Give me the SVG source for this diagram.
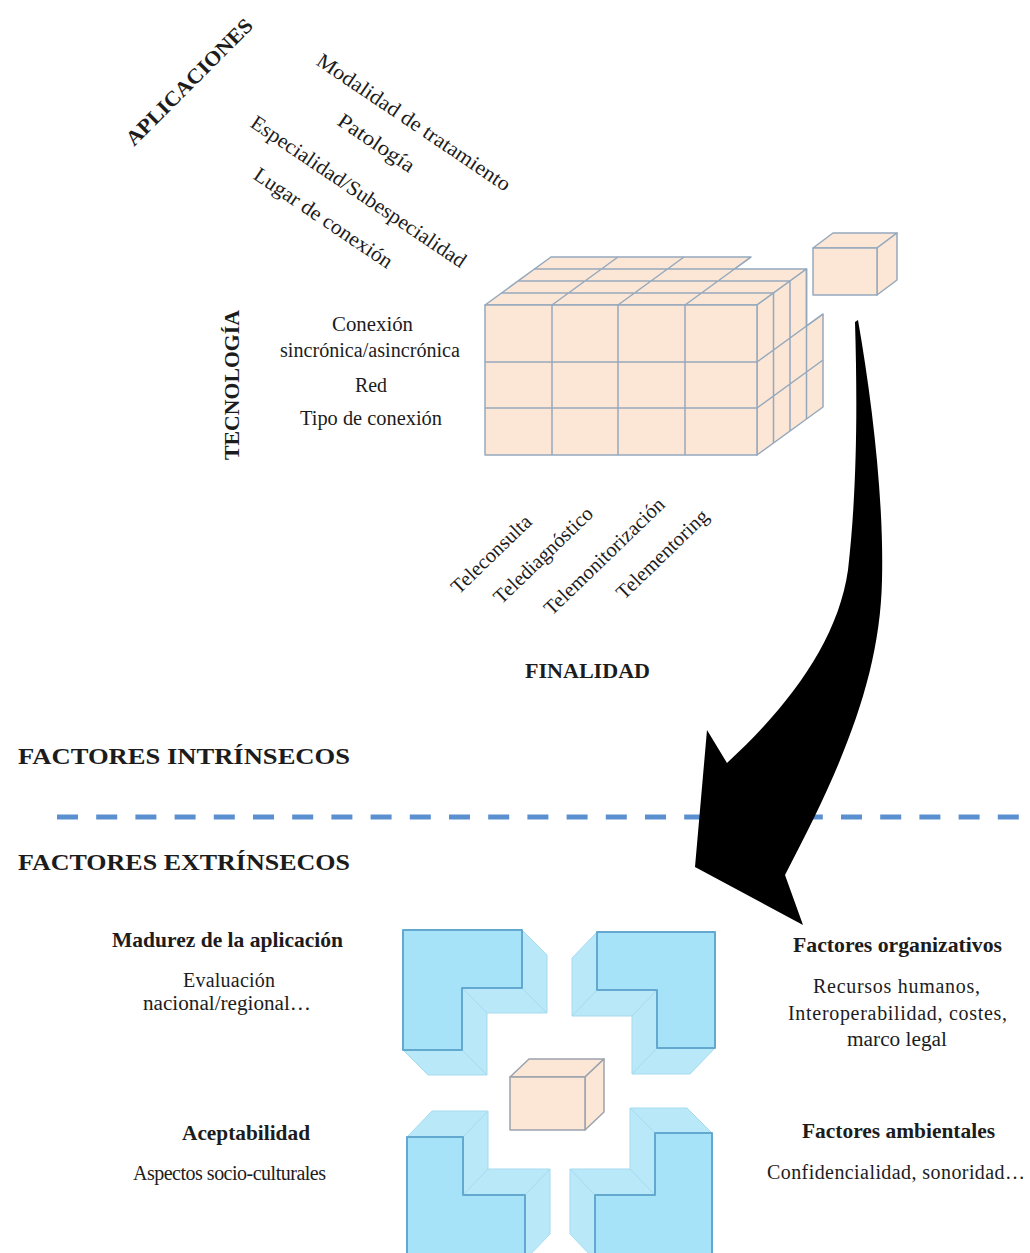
<svg xmlns="http://www.w3.org/2000/svg" width="1030" height="1253" viewBox="0 0 1030 1253">
  <style>
    text { font-family: "Liberation Serif", "Times New Roman", serif; fill: #1c1c1c; }
    .b { font-weight: bold; }
    .t20 { font-size: 20px; }
    .t21 { font-size: 21px; }
    .cube { fill: #fce7d6; stroke: #95a9bd; stroke-width: 1.5; stroke-linejoin: round; }
    .grid { fill: none; stroke: #95a9bd; stroke-width: 1.5; }
    .box { fill: #fce7d6; stroke: #9aa3ad; stroke-width: 1.5; stroke-linejoin: round; }
    .lside { fill: #b9e8f8; stroke: #a6dbef; stroke-width: 1; stroke-linejoin: round; }
    .lfront { fill: #a6e2f8; stroke: #62a8cf; stroke-width: 2; stroke-linejoin: round; }
    .seam { fill: none; stroke: #a6dbef; stroke-width: 1; }
    .divider { fill: none; stroke: #5a8fd0; stroke-width: 5; stroke-dasharray: 21 18.2; }
  </style>

  <rect width="1030" height="1253" fill="#ffffff"/>

  <!-- Axis: applications (rotated labels) -->
  <g id="eje-aplicaciones">
    <text class="b t21" transform="translate(134,147) rotate(-45)" textLength="170" lengthAdjust="spacingAndGlyphs">APLICACIONES</text>
    <text class="t21" transform="translate(315,64) rotate(34)" textLength="229" lengthAdjust="spacingAndGlyphs">Modalidad de tratamiento</text>
    <text class="t21" transform="translate(336,124) rotate(34)" textLength="88" lengthAdjust="spacingAndGlyphs">Patología</text>
    <text class="t21" transform="translate(249,126) rotate(34)" textLength="255" lengthAdjust="spacingAndGlyphs">Especialidad/Subespecialidad</text>
    <text class="t21" transform="translate(252,178) rotate(34)" textLength="163" lengthAdjust="spacingAndGlyphs">Lugar de conexión</text>
  </g>

  <!-- Axis: technology -->
  <g id="eje-tecnologia">
    <text class="b t21" transform="translate(239,460) rotate(-90)" textLength="150" lengthAdjust="spacingAndGlyphs">TECNOLOGÍA</text>
    <text class="t20" x="332" y="331" textLength="81" lengthAdjust="spacingAndGlyphs">Conexión</text>
    <text class="t20" x="280" y="357" textLength="180" lengthAdjust="spacingAndGlyphs">sincrónica/asincrónica</text>
    <text class="t20" x="355" y="392" textLength="32" lengthAdjust="spacingAndGlyphs">Red</text>
    <text class="t20" x="300" y="425" textLength="142" lengthAdjust="spacingAndGlyphs">Tipo de conexión</text>
  </g>

  <!-- Large segmented cube -->
  <g id="cubo-principal">
    <!-- top face (back-right corner piece missing) -->
    <polygon class="cube" points="485,305 551,257 751,257 734.5,269 806.5,269 757,305"/>
    <!-- right face -->
    <polygon class="cube" points="757,305 806.5,269 806.5,326 823,314 823,407 757,455"/>
    <!-- front face -->
    <rect class="cube" x="485" y="305" width="272" height="150"/>
    <!-- front grid -->
    <path class="grid" d="M552,305V455M618,305V455M685,305V455M485,362H757M485,408H757"/>
    <!-- top grid -->
    <path class="grid" d="M501.5,293H773.5M518,281H790M534.5,269H734.5M552,305L618,257M618,305L684,257M685,305L751,257"/>
    <!-- right grid -->
    <path class="grid" d="M773.5,293V443M790,281V431M806.5,269V419M757,362L823,314M757,408L823,360"/>
  </g>

  <!-- Detached piece -->
  <g id="pieza-suelta">
    <polygon class="cube" points="813,248 833,233 897,233 877,248"/>
    <polygon class="cube" points="877,248 897,233 897,280 877,295"/>
    <rect class="cube" x="813" y="248" width="64" height="47"/>
  </g>

  <!-- Axis: purpose -->
  <g id="eje-finalidad">
    <text class="t20" transform="translate(491,554) rotate(-44)" text-anchor="middle" y="7" style="font-size:20.5px">Teleconsulta</text>
    <text class="t20" transform="translate(543,555) rotate(-44)" text-anchor="middle" y="7" style="font-size:20.5px">Telediagnóstico</text>
    <text class="t20" transform="translate(604,556) rotate(-44)" text-anchor="middle" y="7" style="font-size:20.5px">Telemonitorización</text>
    <text class="t20" transform="translate(662,554) rotate(-44)" text-anchor="middle" y="7" style="font-size:20.5px">Telementoring</text>
    <text class="b" x="525" y="678" style="font-size:22px" textLength="125" lengthAdjust="spacingAndGlyphs">FINALIDAD</text>
  </g>

  <!-- Section headings and divider -->
  <g id="separador">
    <text class="b" x="18" y="764" style="font-size:23px" textLength="332" lengthAdjust="spacingAndGlyphs">FACTORES INTRÍNSECOS</text>
    <line class="divider" x1="57" y1="817" x2="1020" y2="817"/>
    <text class="b" x="18" y="870" style="font-size:23px" textLength="332" lengthAdjust="spacingAndGlyphs">FACTORES EXTRÍNSECOS</text>
  </g>

  <!-- Curved arrow from the intrinsic cube to the extrinsic factors -->
  <g id="connectors">
    <path fill="#000000" d="M858,320 C872,400 884,500 882,580 C880,680 840,770 785,875 L803,925 L695,867 L707,730 L727,763 C790,705 838,640 848,570 C856,500 858,420 855,322 Z"/>
  </g>

  <!-- Extrinsic factor blocks -->
  <g id="bloque-superior-izquierdo">
    <polygon class="lside" points="403,930 522,930 547,955 547,1013 487,1013 487,1075 428,1075 403,1050"/>
    <path class="seam" d="M522,988L547,1013M462,988L487,1013M462,1050L487,1075"/>
    <polygon class="lfront" points="403,930 522,930 522,988 462,988 462,1050 403,1050"/>
  </g>
  <g id="bloque-superior-derecho">
    <polygon class="lside" points="597,932 715,932 715,1048 690,1074 632,1074 632,1016 572,1016 572,958"/>
    <path class="seam" d="M597,990L572,1016M657,990L632,1016M657,1048L632,1074"/>
    <polygon class="lfront" points="597,932 715,932 715,1048 657,1048 657,990 597,990"/>
  </g>
  <g id="bloque-inferior-izquierdo">
    <polygon class="lside" points="407,1137 432,1111 488,1111 488,1169 550,1169 550,1234 525,1260 407,1260"/>
    <path class="seam" d="M463,1137L488,1111M463,1195L488,1169M525,1195L550,1169"/>
    <polygon class="lfront" points="407,1137 463,1137 463,1195 525,1195 525,1260 407,1260"/>
  </g>
  <g id="bloque-inferior-derecho">
    <polygon class="lside" points="630,1108 687,1108 712,1133 712,1260 595,1260 570,1234 570,1169 630,1169"/>
    <path class="seam" d="M655,1133L630,1108M655,1195L630,1169M595,1195L570,1169"/>
    <polygon class="lfront" points="655,1133 712,1133 712,1260 595,1260 595,1195 655,1195"/>
  </g>

  <!-- Small central cube -->
  <g id="cubo-central">
    <polygon class="box" points="510,1077 529,1059 604,1059 585,1077"/>
    <polygon class="box" points="585,1077 604,1059 604,1112 585,1130"/>
    <rect class="box" x="510" y="1077" width="75" height="53"/>
  </g>

  <!-- Factor labels -->
  <g id="madurez">
    <text class="b t21" x="112" y="947" textLength="231" lengthAdjust="spacingAndGlyphs">Madurez de la aplicación</text>
    <text class="t20" x="183" y="987" textLength="92" lengthAdjust="spacing">Evaluación</text>
    <text class="t20" x="143" y="1010" textLength="168" lengthAdjust="spacingAndGlyphs">nacional/regional…</text>
  </g>
  <g id="organizativos">
    <text class="b t21" x="793" y="952" textLength="209" lengthAdjust="spacingAndGlyphs">Factores organizativos</text>
    <text class="t20" x="813" y="993" textLength="167" lengthAdjust="spacing">Recursos humanos,</text>
    <text class="t20" x="788" y="1020" textLength="219" lengthAdjust="spacing">Interoperabilidad, costes,</text>
    <text class="t20" x="847" y="1046" textLength="100" lengthAdjust="spacingAndGlyphs">marco legal</text>
  </g>
  <g id="aceptabilidad">
    <text class="b t21" x="182" y="1140" textLength="128" lengthAdjust="spacingAndGlyphs">Aceptabilidad</text>
    <text class="t20" x="133" y="1180" textLength="193" lengthAdjust="spacing">Aspectos socio-culturales</text>
  </g>
  <g id="ambientales">
    <text class="b t21" x="802" y="1138" textLength="193" lengthAdjust="spacingAndGlyphs">Factores ambientales</text>
    <text class="t20" x="767" y="1179" textLength="258" lengthAdjust="spacing">Confidencialidad, sonoridad…</text>
  </g>
</svg>
